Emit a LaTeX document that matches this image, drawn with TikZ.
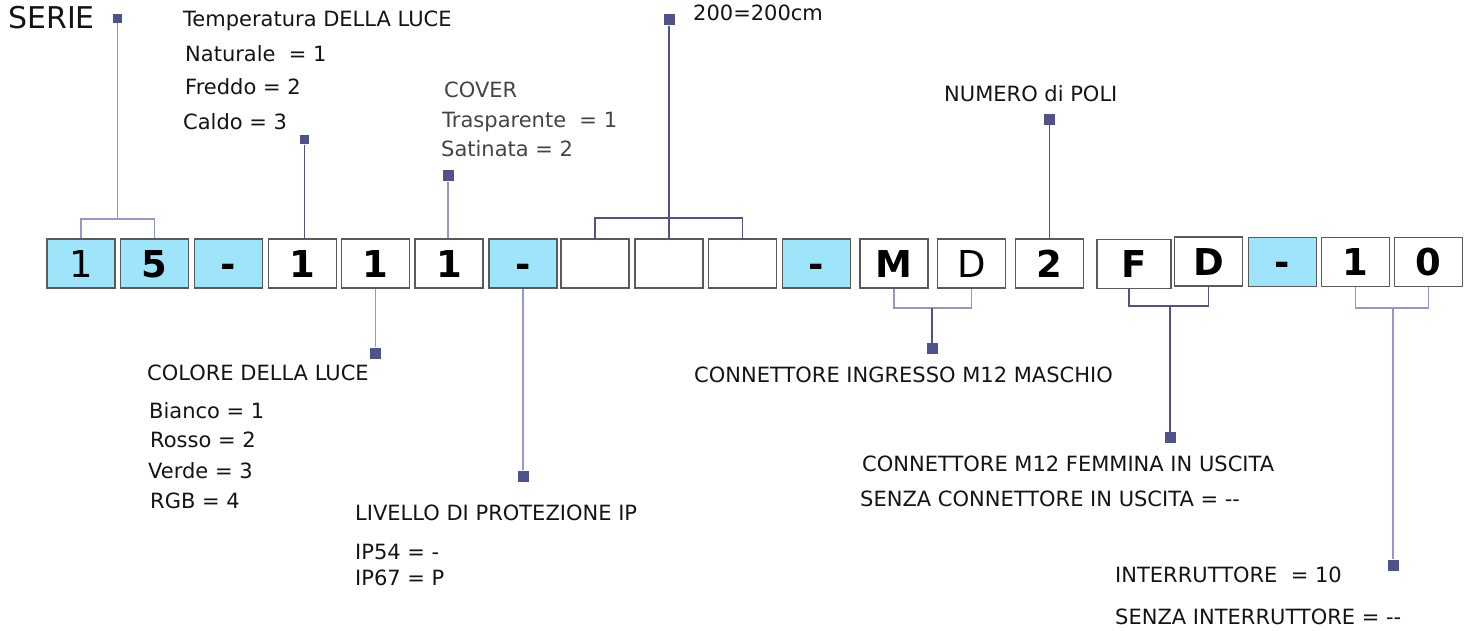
\documentclass[tikz,border=0pt]{standalone}
\usepackage{fontspec}
\setmainfont{DejaVu Sans}
\definecolor{cellblue}{RGB}{158,229,252}
\definecolor{pinblue}{RGB}{80,82,140}
\definecolor{leadlight}{RGB}{150,150,200}
\definecolor{boxgray}{RGB}{90,90,90}
\definecolor{covergray}{RGB}{68,68,68}
\tikzset{
  cell/.style={draw=boxgray, line width=1.2pt, minimum width=68pt, minimum height=49pt,
    inner sep=0pt, text height=27pt, text depth=0pt, font=\fontsize{37}{37}\selectfont\bfseries},
  bluecell/.style={cell, fill=cellblue},
  pin/.style={fill=pinblue, inner sep=0pt, minimum size=11pt},
  lead/.style={draw=leadlight, line width=1.3pt},
  leaddark/.style={draw=pinblue, line width=1.3pt},
  txt/.style={anchor=base west, inner sep=0pt, font=\fontsize{21}{21}\selectfont, text=black!92},
}

\begin{document}
\begin{tikzpicture}[x=1pt, y=-1pt]
    \useasboundingbox (0,0) rectangle (1472,631);

    \node[bluecell] at (81,263.5)     (b1)  {\mdseries 1};
    \node[bluecell] at (154.5,263.5)  (b2)  {5};
    \node[bluecell] at (228.5,263.5)  (b3)  {-};
    \node[cell]     at (302.5,263.5)  (b4)  {1};
    \node[cell]     at (375.5,263.5)  (b5)  {1};
    \node[cell]     at (449,263.5)    (b6)  {1};
    \node[bluecell] at (523,263.5)    (b7)  {-};
    \node[cell]     at (595,263.5)    (b8)  {};
    \node[cell]     at (669,263.5)    (b9)  {};
    \node[cell]     at (742.5,263.5)  (b10) {};
    \node[bluecell] at (816.5,263.5)  (b11) {-};
    \node[cell]     at (894,263.5)    (b12) {M};
    \node[cell]     at (971.5,263.5)  (b13) {\mdseries D};
    \node[cell]     at (1049.5,263.5) (b14) {2};
    \node[cell, minimum width=74pt] at (1134,264) (b15) {F};
    \node[cell]     at (1208.5,261.5) (b16) {D};
    \node[bluecell] at (1282.5,262)   (b17) {-};
    \node[cell]     at (1355.5,262)   (b18) {1};
    \node[cell]     at (1428.5,262)   (b19) {0};

    \node[pin, minimum size=9pt] at (117.5,18.5) (mserie) {};
    \node[pin, minimum size=9pt] at (304.5,140)  (mtemp)  {};
    \node[pin] at (448,176)    (mcover)  {};
    \node[pin] at (375.5,353)  (mcolore) {};
    \node[pin] at (523,476)    (mip)     {};
    \node[pin] at (669,20)     (mlen)    {};
    \node[pin] at (1049.5,119.5) (mpoli) {};
    \node[pin] at (932,348.5)  (min)     {};
    \node[pin] at (1170,437.5) (mout)    {};
    \node[pin] at (1393,565)   (mswitch) {};

    \coordinate (serie-fork) at (117.5,219);
    \coordinate (len-fork)   at (669,218);
    \coordinate (in-fork)    at (932,308);
    \coordinate (out-fork)   at (1170,306);
    \coordinate (switch-fork) at (1393,308);

    \draw[lead] (b1.north) |- (serie-fork) -| (b2.north);
    \draw[lead] (mserie) -- (serie-fork);
    \draw[leaddark] (mtemp) -- (mtemp |- b4.north);
    \draw[lead] (mcover) -- (mcover |- b6.north);
    \draw[lead] (b5.south) -- (mcolore);
    \draw[lead] (b7.south) -- (mip);
    \draw[leaddark] (b8.north) |- (len-fork) -| (b10.north);
    \draw[leaddark] (mlen) -- (b9.north);
    \draw[leaddark] (mpoli) -- (b14.north);
    \draw[lead] (b12.south) |- (in-fork) -| (b13.south);
    \draw[leaddark] (in-fork) -- (min);
    \draw[leaddark] ([xshift=-5pt]b15.south) |- (out-fork) -| (b16.south);
    \draw[leaddark] (out-fork) -- (mout);
    \draw[lead] (b18.south) |- (switch-fork) -| (b19.south);
    \draw[lead] (switch-fork) -- (mswitch);

    \node[txt, font=\fontsize{30}{30}\selectfont] at (8,29) (serie) {SERIE};
    \node[txt] at (183,27)  (temp)     {Temperatura DELLA LUCE};
    \node[txt] at (185,62)  (naturale) {Naturale~ = 1};
    \node[txt] at (185,95)  (freddo)   {Freddo = 2};
    \node[txt] at (183,130) (caldo)    {Caldo = 3};
    \node[txt, text=covergray] at (444,98)  (cover)     {COVER};
    \node[txt, text=covergray] at (442,128) (trasp)     {Trasparente~ = 1};
    \node[txt, text=covergray] at (441,157) (satinata)  {Satinata = 2};
    \node[txt] at (693,21)  (len)      {200=200cm};
    \node[txt] at (944,102) (poli)     {NUMERO di POLI};
    \node[txt] at (147,380) (colore)   {COLORE DELLA LUCE};
    \node[txt] at (149,418) (bianco)   {Bianco = 1};
    \node[txt] at (150,447) (rosso)    {Rosso = 2};
    \node[txt] at (148,478) (verde)    {Verde = 3};
    \node[txt] at (150,508) (rgb)      {RGB = 4};
    \node[txt] at (355,520) (livello)  {LIVELLO DI PROTEZIONE IP};
    \node[txt] at (355,559) (ip54)     {IP54 = -};
    \node[txt] at (355,585) (ip67)     {IP67 = P};
    \node[txt] at (694,382) (ingresso) {CONNETTORE INGRESSO M12 MASCHIO};
    \node[txt] at (862,471) (femmina)  {CONNETTORE M12 FEMMINA IN USCITA};
    \node[txt] at (860,506) (senzacon) {SENZA CONNETTORE IN USCITA = -{}-};
    \node[txt] at (1115,582) (interr)  {INTERRUTTORE~ = 10};
    \node[txt] at (1115,624) (senzaint) {SENZA INTERRUTTORE = -{}-};
\end{tikzpicture}
\end{document}
